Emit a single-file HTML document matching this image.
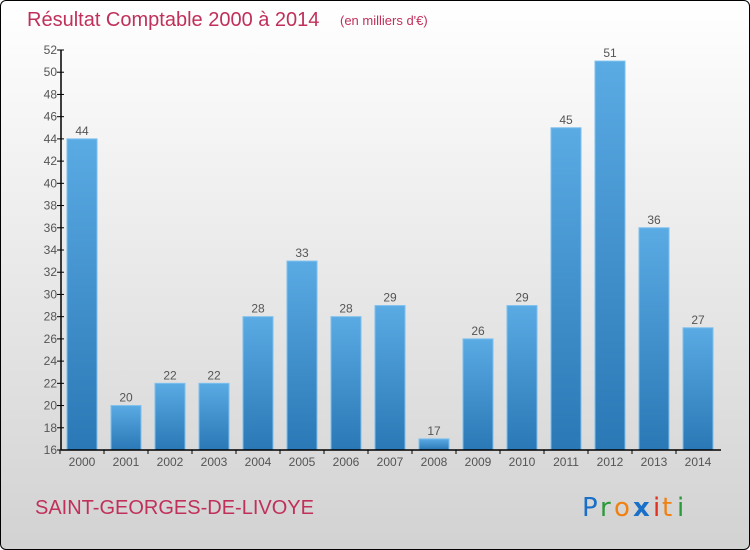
<!DOCTYPE html>
<html><head><meta charset="utf-8"><style>
body{margin:0;width:750px;height:550px;overflow:hidden;font-family:"Liberation Sans",sans-serif}
#frame{position:absolute;left:0;top:0;width:748px;height:548px;border:1px solid #000;border-radius:6px;background:linear-gradient(#ffffff,#d2d2d2)}
</style></head><body>
<div id="frame"></div>
<svg width="750" height="550" style="position:absolute;left:0;top:0">
<defs><linearGradient id="bg" x1="0" y1="0" x2="0" y2="1"><stop offset="0" stop-color="#5aaae4"/><stop offset="1" stop-color="#2a78b5"/></linearGradient></defs>
<text x="27" y="26" font-size="20" fill="#c0305a">Résultat Comptable 2000 à 2014</text>
<text x="340" y="25" font-size="13" fill="#c0305a">(en milliers d'€)</text>
<g id="plot"></g>
<text x="35" y="514" font-size="20" fill="#c0305a">SAINT-GEORGES-DE-LIVOYE</text>
<g font-size="26" font-family="'DejaVu Sans',sans-serif">
<text x="582" y="516" fill="#1a6fc8">P</text><text x="600" y="516" fill="#2a9a3a">r</text><text x="614" y="516" fill="#f08010">o</text><text x="633" y="516" fill="#1a6fc8" font-weight="bold">x</text><text x="653" y="516" fill="#e03020">i</text><text x="662" y="516" fill="#f08010">t</text><text x="677" y="516" fill="#2a9a3a">i</text>
</g>
</svg>
<script>
const years=["2000","2001","2002","2003","2004","2005","2006","2007","2008","2009","2010","2011","2012","2013","2014"];
const values=[44,20,22,22,28,33,28,29,17,26,29,45,51,36,27];
const yTicks=[16,18,20,22,24,26,28,30,32,34,36,38,40,42,44,46,48,50,52];
const NS="http://www.w3.org/2000/svg";
const g=document.getElementById('plot');
const y0=450,y1=50,vmin=16,vmax=52,x0=61;
const y=v=>y0-(v-vmin)/(vmax-vmin)*(y0-y1);
const x=i=>82+i*44;
function el(t,a){const e=document.createElementNS(NS,t);for(const k in a)e.setAttribute(k,a[k]);g.appendChild(e);return e;}
values.forEach((v,i)=>{
 const r=el('rect',{x:x(i)-15,y:y(v),width:30,height:y0-y(v),fill:'url(#bg)',stroke:'#7cc0ee','stroke-width':1});
 
 
 const t=el('text',{x:x(i),y:y(v)-4,'text-anchor':'middle','font-size':12,fill:'#555'});t.textContent=v;
 
 
 const l=el('text',{x:x(i),y:466,'text-anchor':'middle','font-size':12,fill:'#555'});l.textContent=years[i];
 
 
 const tk=el('line',{x1:x(i)-22,x2:x(i)-22,y1:450,y2:454,stroke:'#000'});
 
 
});
yTicks.forEach(v=>{
 const ln=el('line',{x1:x0-4,x2:x0+3,y1:y(v),y2:y(v),stroke:'#000'});
 
 
 const t=el('text',{x:x0-4,y:y(v)+4,'text-anchor':'end','font-size':12,fill:'#555'});t.textContent=v;
 
 
});
const ya=el('line',{x1:x0,x2:x0,y1:y1,y2:y0,stroke:'#000','stroke-width':1.5});


const xa=el('line',{x1:x0,x2:721,y1:y0,y2:y0,stroke:'#000','stroke-width':1.5});


</script>
</body></html>
